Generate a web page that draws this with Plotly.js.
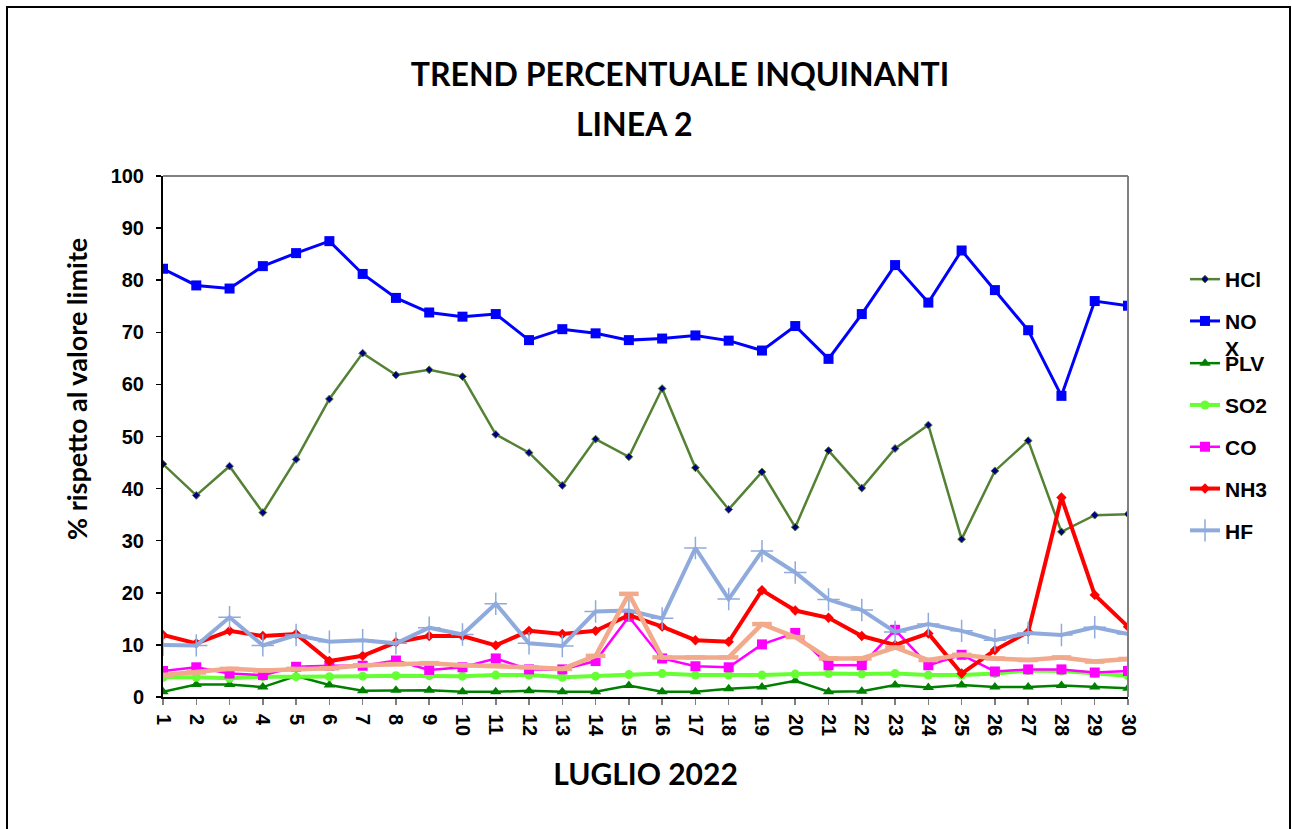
<!DOCTYPE html>
<html>
<head>
<meta charset="utf-8">
<script src="https://cdn.plot.ly/plotly-3.0.1.min.js"></script>
<style>
  html, body { margin: 0; padding: 0; background: #ffffff; }
  #chart { width: 1292px; height: 829px; }
</style>
</head>
<body>
<div id="chart"></div>
<script>
// ---- data ----
const days = [1,2,3,4,5,6,7,8,9,10,11,12,13,14,15,16,17,18,19,20,21,22,23,24,25,26,27,28,29,30];
const hcl = [44.7,38.7,44.3,35.4,45.6,57.2,66.0,61.8,62.8,61.5,50.4,46.9,40.6,49.5,46.1,59.2,44.0,36.0,43.2,32.6,47.3,40.1,47.7,52.2,30.3,43.4,49.2,31.7,34.9,35.1];
const nox = [82.2,79.0,78.4,82.7,85.2,87.5,81.2,76.6,73.8,73.0,73.5,68.5,70.6,69.8,68.5,68.8,69.4,68.4,66.5,71.2,64.9,73.5,82.9,75.7,85.7,78.1,70.4,57.8,76.0,75.1];
const plv = [1.0,2.4,2.4,1.9,4.0,2.3,1.2,1.3,1.3,1.0,1.0,1.2,1.0,1.0,2.2,1.0,1.0,1.6,1.9,3.1,1.0,1.1,2.3,1.8,2.3,1.9,1.9,2.2,1.9,1.7];
const so2 = [3.8,3.8,3.6,3.9,3.9,3.9,4.0,4.1,4.1,4.0,4.2,4.2,3.8,4.0,4.3,4.5,4.2,4.2,4.2,4.4,4.5,4.4,4.5,4.2,4.2,4.5,5.1,5.0,4.5,4.1];
const co  = [5.0,5.7,4.5,4.2,5.8,6.0,6.0,7.0,5.2,5.7,7.4,5.3,5.3,6.9,15.4,7.4,5.9,5.7,10.1,12.3,6.1,6.1,12.9,6.1,8.1,4.9,5.3,5.3,4.7,5.0];
const nh3 = [11.9,10.3,12.7,11.7,12.1,6.9,7.9,10.5,11.7,11.7,9.9,12.7,12.1,12.7,15.7,13.5,10.9,10.6,20.5,16.6,15.2,11.7,10.0,12.2,4.5,9.0,12.5,38.3,19.6,13.5];
const hf  = [10.0,9.9,15.3,9.9,11.9,10.6,10.9,10.3,13.3,12.0,17.9,10.3,9.8,16.4,16.6,15.1,28.6,18.8,28.0,23.9,18.7,16.7,12.5,14.0,12.7,10.9,12.3,11.9,13.4,12.1];
const cot = [4.2,4.7,5.4,5.1,5.4,5.5,6.1,6.3,6.5,6.1,6.0,5.7,5.4,7.9,19.8,7.6,7.6,7.6,14.0,11.5,7.4,7.4,9.5,7.1,8.1,7.4,7.1,7.6,6.8,7.3];

const seriesNames = ['HCl','NO<br>X','PLV','SO2','CO','NH3','HF','COT'];
const titleLine1 = 'TREND PERCENTUALE INQUINANTI';
const titleLine2 = 'LINEA 2';
const xTitle = 'LUGLIO 2022';
const yTitle = '% rispetto al valore limite';
const yTicks = [0,10,20,30,40,50,60,70,80,90,100];

// ---- geometry helpers (pixel -> paper) ----
const W = 1292, H = 829;
const L = 163, R = 1128, T = 176, B = 697;
const px = x => (x - L) / (R - L);
const py = y => (B - y) / (B - T);

const traces = [
  {name: seriesNames[0], y: hcl, legend: 'legend', legendgroup: 'g1',
   line: {color: '#548235', width: 2.5},
   marker: {symbol: 'diamond', size: 6, color: '#000080', line: {color: '#548235', width: 1}}},
  {name: seriesNames[1], y: nox, legend: 'legend', legendgroup: 'g2',
   line: {color: '#0000FF', width: 3},
   marker: {symbol: 'square', size: 10, color: '#0000FF'}},
  {name: seriesNames[2], y: plv, legend: 'legend2', legendgroup: 'g3',
   line: {color: '#008000', width: 2.5},
   marker: {symbol: 'triangle-up', size: 10, color: '#008000'}},
  {name: seriesNames[3], y: so2, legend: 'legend2', legendgroup: 'g4',
   line: {color: '#66FF33', width: 4},
   marker: {symbol: 'circle', size: 9, color: '#66FF33'}},
  {name: seriesNames[4], y: co, legend: 'legend2', legendgroup: 'g5',
   line: {color: '#FF00FF', width: 2.5},
   marker: {symbol: 'square', size: 10, color: '#FF00FF'}},
  {name: seriesNames[5], y: nh3, legend: 'legend2', legendgroup: 'g6',
   line: {color: '#FF0000', width: 4},
   marker: {symbol: 'diamond', size: 8, color: '#FF0000'}},
  {name: seriesNames[6], y: hf, legend: 'legend2', legendgroup: 'g7',
   line: {color: '#8FAADC', width: 4},
   marker: {symbol: 'cross-thin', size: 16, color: '#8FAADC', line: {color: '#8FAADC', width: 1.5}}},
  {name: seriesNames[7], y: cot, showlegend: false,
   line: {color: '#F2AA8C', width: 4.5},
   marker: {symbol: 'line-ew', size: 14, color: '#F2AA8C', line: {color: '#F2AA8C', width: 4.5}}}
].map(t => Object.assign({type: 'scatter', mode: 'lines+markers', x: days}, t));

const tickFont = {family: 'Liberation Sans, Arial, sans-serif', size: 20, color: '#000', weight: 'bold'};
const legendFont = {family: 'Liberation Sans, Arial, sans-serif', size: 21, color: '#000', weight: 'bold'};
const titleFont = {family: 'Lato, sans-serif', color: '#000', weight: 'bold'};

const layout = {
  width: W, height: H, autosize: false,
  paper_bgcolor: '#ffffff', plot_bgcolor: '#ffffff',
  margin: {l: L, r: W - R, t: T, b: H - B, pad: 0},
  showlegend: true,
  title: {text: titleLine1, x: 680 / W, xanchor: 'center', xref: 'container',
          y: 1 - 75 / H, yanchor: 'middle', yref: 'container',
          font: Object.assign({size: 32}, titleFont)},
  xaxis: {
    range: [1, 30], tickmode: 'array', tickvals: days, ticktext: days.map(String),
    tickangle: 90, ticks: 'outside', ticklen: 6, tickcolor: '#808080', tickwidth: 1.5,
    showline: true, linecolor: '#000', linewidth: 2, showgrid: false, zeroline: false,
    tickfont: tickFont, ticklabelstandoff: 5,
    title: {text: xTitle, standoff: 28, font: Object.assign({size: 30}, titleFont)}
  },
  yaxis: {
    range: [0, 100], tickmode: 'array', tickvals: yTicks,
    ticks: 'outside', ticklen: 5, tickcolor: '#000', tickwidth: 1.5,
    showline: true, linecolor: '#000', linewidth: 2, showgrid: false, zeroline: false,
    tickfont: tickFont, ticklabelstandoff: 8
  },
  legend: {x: px(1185), xanchor: 'left', y: py(259), yanchor: 'top',
           font: legendFont, bgcolor: 'rgba(0,0,0,0)', borderwidth: 0,
           tracegroupgap: 11.5, valign: 'top', traceorder: 'grouped'},
  legend2: {x: px(1185), xanchor: 'left', y: py(343), yanchor: 'top',
            font: legendFont, bgcolor: 'rgba(0,0,0,0)', borderwidth: 0,
            tracegroupgap: 11.5, valign: 'top', traceorder: 'grouped'},
  annotations: [
    {text: titleLine2, xref: 'paper', yref: 'paper', x: px(634), y: py(124),
     xanchor: 'center', yanchor: 'middle', showarrow: false,
     font: Object.assign({size: 32}, titleFont)},
    {text: yTitle, xref: 'paper', yref: 'paper', x: px(76), y: py(389),
     xanchor: 'center', yanchor: 'middle', textangle: -90, showarrow: false,
     font: Object.assign({size: 27}, titleFont)}
  ],
  shapes: [
    // plot area top and right borders (grey)
    {type: 'line', xref: 'paper', yref: 'paper', x0: 0, x1: 1, y0: 1, y1: 1,
     line: {color: '#808080', width: 2}},
    {type: 'line', xref: 'paper', yref: 'paper', x0: 1, x1: 1, y0: 0, y1: 1,
     line: {color: '#808080', width: 2}},
    // outer chart frame
    {type: 'rect', xref: 'paper', yref: 'paper', x0: px(7), x1: px(1290), y0: py(840), y1: py(7),
     line: {color: '#000', width: 2}, fillcolor: 'rgba(0,0,0,0)', layer: 'above'}
  ]
};

Plotly.newPlot('chart', traces, layout, {displayModeBar: false, staticPlot: true});
</script>
</body>
</html>
